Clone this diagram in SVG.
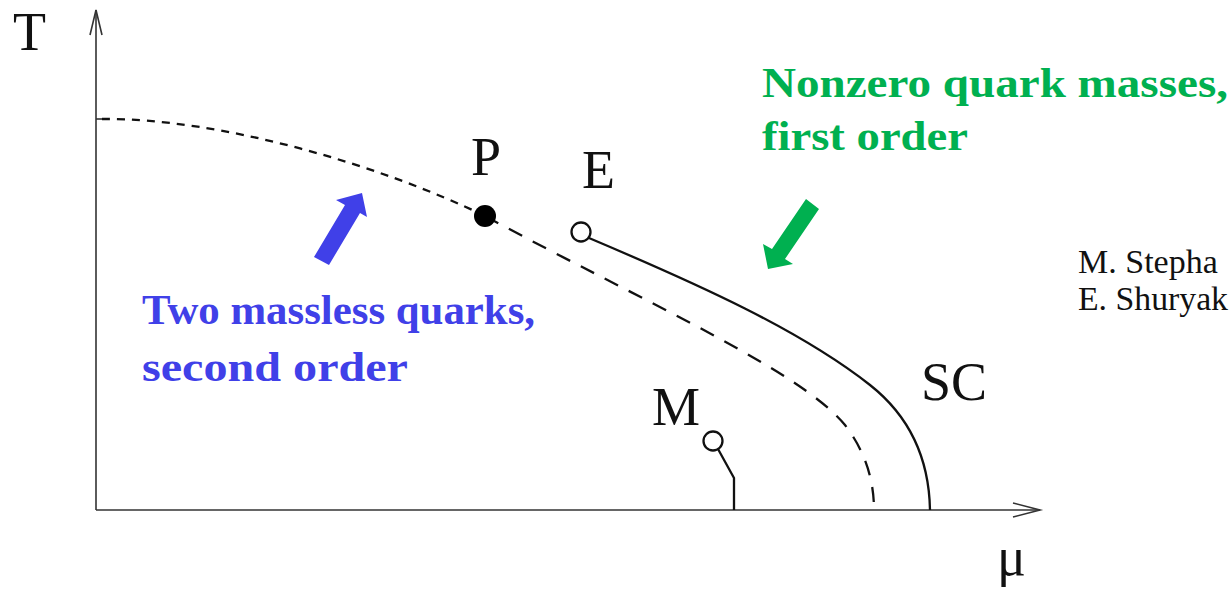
<svg xmlns="http://www.w3.org/2000/svg" width="1231" height="592" viewBox="0 0 1231 592">
<style>
.axis{fill:none;stroke:#333;stroke-width:1.6}
.curve{fill:none;stroke:#111;stroke-width:2.3}
.lbl{font-family:"Liberation Serif",serif;font-size:54px;fill:#111}
.name{font-family:"Liberation Serif",serif;font-size:34px;fill:#111}
.blue{font-family:"Liberation Serif",serif;font-weight:bold;font-size:42px;fill:#4040E8}
.green{font-family:"Liberation Serif",serif;font-weight:bold;font-size:42px;fill:#00B050}
</style>
<rect width="1231" height="592" fill="#fff"/>
<g id="axes">
<line class="axis" x1="96" y1="10" x2="96" y2="510"/>
<line class="axis" x1="96" y1="510" x2="1040" y2="510"/>
<polyline class="axis" points="90,35 96,10 102,35"/>
<polyline class="axis" points="1013,503 1040,510 1013,517"/>
<line class="axis" x1="96" y1="119" x2="102" y2="119"/>
<text class="lbl" x="13" y="50">T</text>
<text class="lbl" x="997" y="575">μ</text>
</g>
<g id="connectors">
<path class="curve" stroke-dasharray="8,7" stroke-width="2" d="M102,119 C220,118 380,165 485,216"/>
<path class="curve" stroke-dasharray="15,12" d="M485,216 C640,300 800,370 845,425 C868,455 874,485 874,510"/>
<path class="curve" d="M589,238 C700,285 800,330 870,385 C908,415 929,455 930,510"/>
<path class="curve" d="M718,449 L734,478 L734,510"/>
</g>
<g id="node-P">
<circle cx="485" cy="216" r="11" fill="#000"/>
<text class="lbl" x="471" y="175">P</text>
</g>
<g id="node-E">
<circle cx="581" cy="232" r="9.5" fill="#fff" stroke="#111" stroke-width="2.3"/>
<text class="lbl" x="582" y="188">E</text>
</g>
<g id="node-M">
<circle cx="713" cy="441" r="9.5" fill="#fff" stroke="#111" stroke-width="2.3"/>
<text class="lbl" x="652" y="425">M</text>
</g>
<g id="node-SC">
<text class="lbl" x="921" y="400">SC</text>
</g>
<g id="arrow-blue">
<polygon points="314,257 345,205 336,200 362,193 367,217 360,213 329,265" fill="#4040E8"/>
</g>
<g id="arrow-green">
<polygon points="806,199 772,249 763,244 768,269 793,264 785,259 819,209" fill="#00B050"/>
</g>
<g id="label-blue">
<text class="blue" x="142" y="324" textLength="393" lengthAdjust="spacingAndGlyphs">Two massless quarks,</text>
<text class="blue" x="142" y="381" textLength="266" lengthAdjust="spacingAndGlyphs">second order</text>
</g>
<g id="label-green">
<text class="green" x="762" y="97" textLength="466" lengthAdjust="spacingAndGlyphs">Nonzero quark masses,</text>
<text class="green" x="762" y="150" textLength="206" lengthAdjust="spacingAndGlyphs">first order</text>
</g>
<g id="authors">
<text class="name" x="1078" y="273">M. Stepha</text>
<text class="name" x="1078" y="310" textLength="150" lengthAdjust="spacingAndGlyphs">E. Shuryak</text>
</g>
</svg>
